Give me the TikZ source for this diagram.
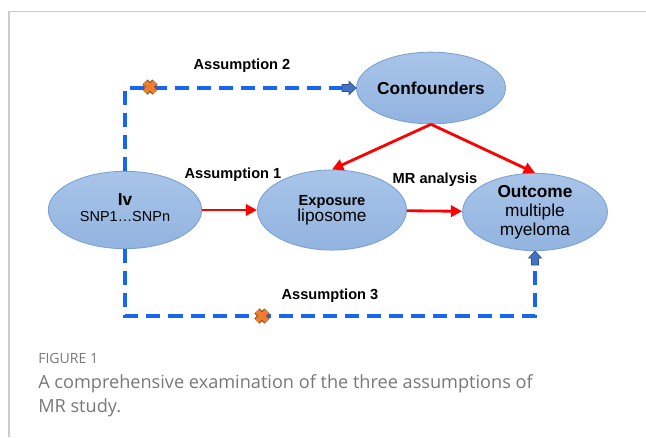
\documentclass[tikz,border=0pt]{standalone}
\usepackage{fontspec}
\setmainfont{Liberation Sans}
\newfontfamily\capfont{Open Sans}
\usepackage{xcolor}
\usetikzlibrary{shapes.geometric,arrows.meta,calc}
\definecolor{ellfill}{RGB}{168,196,232}
\definecolor{ellfilldk}{RGB}{146,180,224}
\definecolor{elledge}{RGB}{120,160,212}
\definecolor{dashblue}{RGB}{22,102,240}
\definecolor{headblue}{RGB}{68,114,196}
\definecolor{xorange}{RGB}{237,125,49}
\definecolor{capgray}{RGB}{120,120,120}
\tikzset{
  ell/.style={ellipse, draw=elledge, line width=0.6pt,
    top color=ellfill, bottom color=ellfilldk, inner sep=0pt},
  redarr/.style={draw=red, line width=2pt, -{Triangle[length=8pt,width=8pt]}},
  blueline/.style={draw=dashblue, line width=2.3pt, dash pattern=on 10pt off 5.7pt},
  lab/.style={font=\fontsize{10.4}{12}\selectfont\bfseries},
  blockhead/.pic={
    \filldraw[fill=headblue, draw=headblue!70!black, line width=0.5pt]
      (-14,-3.5) -- (-7,-3.5) -- (-7,-6.5) -- (0,0) -- (-7,6.5) -- (-7,3.5) -- (-14,3.5) -- cycle;
  },
  xmark/.pic={
    \draw[line width=5.2pt, draw=xorange!60!black] (-5,-5) -- (5,5) (-5,5) -- (5,-5);
    \draw[line width=3.6pt, draw=xorange] (-5,-5) -- (5,5) (-5,5) -- (5,-5);
  }
}

\begin{document}
\begin{tikzpicture}[x=0.025cm, y=-0.025cm]
		\useasboundingbox (0,0) rectangle (646,437);
		% frame
		\draw[gray!40, line width=1pt] (9,437) -- (9,11.5) -- (646,11.5);
		% ellipses
		\node[ell, minimum width=109pt, minimum height=55pt,
		  label={center:{\begin{tabular}{@{}c@{}}{\fontsize{12.3}{14}\selectfont\bfseries Iv}\\[-1pt]
		  {\fontsize{10.3}{12}\selectfont SNP1\ldots SNPn}\end{tabular}}}] (iv) at (125,210) {};
		\node[ell, minimum width=106pt, minimum height=57pt,
		  label={center:{\begin{tabular}{@{}c@{}}{\fontsize{10.4}{12}\selectfont\bfseries Exposure}\\[-1pt]
		  {\fontsize{12.3}{14}\selectfont liposome}\end{tabular}}}] (expo) at (332,210) {};
		\node[ell, minimum width=103pt, minimum height=55pt,
		  label={center:{\fontsize{12.3}{15.5}\selectfont\begin{tabular}{@{}c@{}}\bfseries Outcome\\[-2pt]
		  multiple\\[-2pt] myeloma\end{tabular}}}] (outc) at (535,212) {};
		\node[ell, minimum width=106pt, minimum height=51pt,
		  label={center:{\fontsize{12.3}{14}\selectfont\bfseries Confounders}}] (conf) at (431,88) {};
		% red arrows
		\draw[redarr] (iv) -- (expo);
		\draw[redarr] (expo) -- (outc);
		\draw[redarr] (conf.south) -- (expo.north);
		\draw[redarr] (conf.south) -- (outc.north);
		% blue dashed assumptions
		\coordinate (low) at (330,316);
		\draw[blueline] (iv.north) |- ($(conf.west)+(-13,0)$);
		\draw[blueline] (iv.south) |- (low) -| ($(outc.south)+(0,13)$);
		\pic at (conf.west) {blockhead};
		\pic[rotate=90] at (outc.south) {blockhead};
		\pic at (150,87) {xmark};
		\pic at (262,316) {xmark};
		%
		\node[lab] (a2) at (242,66) {Assumption 2};
		\node[lab] (a1) at (233,175) {Assumption 1};
		\node[lab] (mr) at (435,180) {MR analysis};
		\node[lab] (a3) at (330,296) {Assumption 3};
		% caption
		\node[anchor=base west, inner sep=0pt, text=capgray, font=\capfont\fontsize{10}{12}\selectfont] (fig) at (38,363) {FIGURE 1};
		\node[anchor=base west, inner sep=0pt, text=capgray, align=left,
		  font=\capfont\fontsize{12.9}{17}\selectfont] (cap) at (38,412)
		  {A comprehensive examination of the three assumptions of\\MR study.};
	\end{tikzpicture}
\end{document}
